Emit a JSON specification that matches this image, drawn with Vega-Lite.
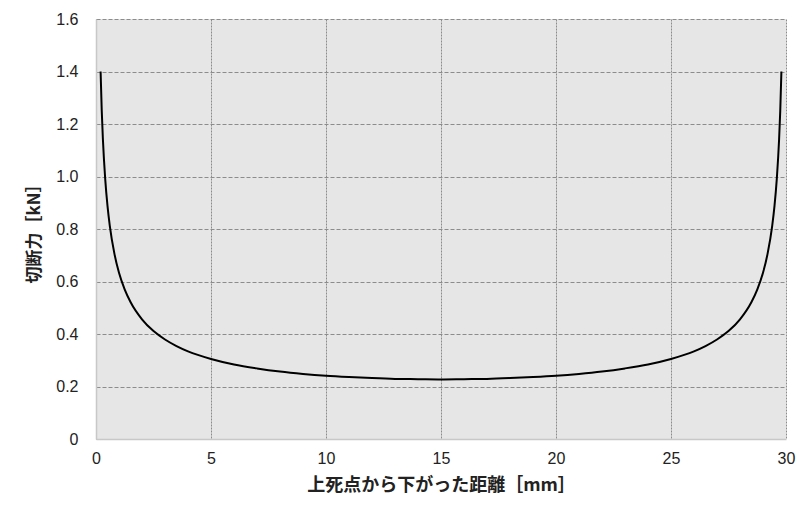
{
  "$schema": "https://vega.github.io/schema/vega-lite/v6.json",
  "width": 690,
  "height": 420,
  "autosize": {"type": "none"},
  "padding": {"left": 96, "top": 19, "right": 24, "bottom": 78},
  "background": "white",
  "config": {
    "view": {"fill": "#e6e6e6", "stroke": null},
    "axis": {
      "labelFont": "Liberation Sans",
      "labelFontSize": 16,
      "labelColor": "#222222",
      "titleFont": "Noto Sans CJK JP",
      "titleFontSize": 17,
      "titleFontWeight": "bold",
      "titleColor": "#222222",
      "ticks": false,
      "domainColor": "#c8c8c8",
      "domainWidth": 1.5,
      "gridColor": "#8c8c8c",
      "gridWidth": 1
    }
  },
  "data": {
    "values": [
      {"x": 0.2, "y": 1.40}, {"x": 0.25, "y": 1.25}, {"x": 0.3, "y": 1.142}, {"x": 0.4, "y": 0.991},
      {"x": 0.5, "y": 0.888}, {"x": 0.6, "y": 0.812}, {"x": 0.8, "y": 0.706}, {"x": 1.0, "y": 0.633},
      {"x": 1.25, "y": 0.569}, {"x": 1.5, "y": 0.522}, {"x": 2, "y": 0.456}, {"x": 2.5, "y": 0.411},
      {"x": 3, "y": 0.379}, {"x": 3.5, "y": 0.354}, {"x": 4, "y": 0.334}, {"x": 5, "y": 0.305},
      {"x": 6, "y": 0.284}, {"x": 7, "y": 0.269}, {"x": 8, "y": 0.257}, {"x": 9, "y": 0.248},
      {"x": 10, "y": 0.241}, {"x": 11, "y": 0.236}, {"x": 12, "y": 0.232}, {"x": 13, "y": 0.229},
      {"x": 14, "y": 0.228}, {"x": 15, "y": 0.227}, {"x": 16, "y": 0.228}, {"x": 17, "y": 0.229},
      {"x": 18, "y": 0.232}, {"x": 19, "y": 0.236}, {"x": 20, "y": 0.241}, {"x": 21, "y": 0.248},
      {"x": 22, "y": 0.257}, {"x": 23, "y": 0.269}, {"x": 24, "y": 0.284}, {"x": 25, "y": 0.305},
      {"x": 26, "y": 0.334}, {"x": 26.5, "y": 0.354}, {"x": 27, "y": 0.379}, {"x": 27.5, "y": 0.411},
      {"x": 28, "y": 0.456}, {"x": 28.5, "y": 0.522}, {"x": 28.75, "y": 0.569}, {"x": 29.0, "y": 0.633},
      {"x": 29.2, "y": 0.706}, {"x": 29.4, "y": 0.812}, {"x": 29.5, "y": 0.888}, {"x": 29.6, "y": 0.991},
      {"x": 29.7, "y": 1.142}, {"x": 29.75, "y": 1.25}, {"x": 29.8, "y": 1.40}
    ]
  },
  "mark": {"type": "line", "color": "#000000", "strokeWidth": 2, "interpolate": "monotone"},
  "encoding": {
    "x": {
      "field": "x",
      "type": "quantitative",
      "scale": {"domain": [0, 30], "nice": false},
      "axis": {
        "values": [0, 5, 10, 15, 20, 25, 30],
        "title": "上死点から下がった距離［mm］",
        "titleFontSize": 18,
        "labelPadding": 11,
        "titlePadding": 10,
        "gridDash": [2, 1],
        "labelFlush": false
      }
    },
    "y": {
      "field": "y",
      "type": "quantitative",
      "scale": {"domain": [0, 1.6], "nice": false},
      "axis": {
        "values": [0, 0.2, 0.4, 0.6, 0.8, 1.0, 1.2, 1.4, 1.6],
        "format": ".1f",
        "labelExpr": "datum.value == 0 ? '0' : datum.label",
        "title": "切断力［kN］",
        "labelPadding": 18,
        "titlePadding": 12,
        "gridDash": [4, 2],
        "labelFlush": false
      }
    }
  }
}
